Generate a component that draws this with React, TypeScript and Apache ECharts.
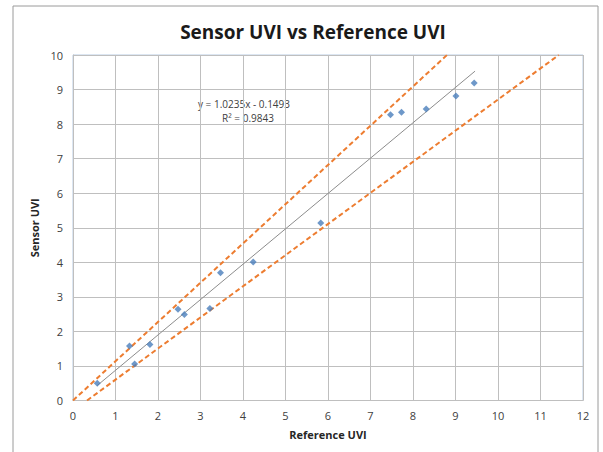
import React, { useEffect, useRef } from "react";
import * as echarts from "echarts";

const referenceUvi = [0.57, 1.33, 1.45, 1.81, 2.47, 2.62, 3.22, 3.47, 4.24, 5.83, 7.47, 7.73, 8.31, 9.01, 9.44];
const sensorUvi = [0.5, 1.58, 1.06, 1.62, 2.64, 2.49, 2.66, 3.7, 4.01, 5.14, 8.27, 8.34, 8.44, 8.81, 9.19];
const trendLine = [[0.57, 0.434], [9.46, 9.533]];
const upperBand = [[0, 0], [8.8, 10]];
const lowerBand = [[0.33, 0], [11.43, 10]];
const xTicks = [0, 12, 1];
const yTicks = [0, 10, 1];
const titleText = "Sensor UVI vs Reference UVI";
const xName = "Reference UVI";
const yName = "Sensor UVI";
const equationText = "y = 1.0235x - 0.1493";
const r2Text = "R² = 0.9843";

const FONT = "'Open Sans', 'Liberation Sans', sans-serif";

export default function App() {
  const ref = useRef<HTMLDivElement>(null);
  useEffect(() => {
    if (!ref.current) return;
    const chart = echarts.init(ref.current, undefined, { renderer: "svg" });
    const points = referenceUvi.map((x, i) => [x, sensorUvi[i]]);
    chart.setOption({
      animation: false,
      backgroundColor: "#ffffff",
      title: {
        text: titleText,
        left: 308,
        top: 17,
        textAlign: "center",
        textStyle: { fontFamily: FONT, fontSize: 19, fontWeight: "bold", color: "#1a1a1a" },
      },
      graphic: [
        {
          type: "rect",
          shape: { x: 13, y: 6, width: 585, height: 470 },
          style: { fill: "none", stroke: "#9a9a9a", lineWidth: 1 },
          silent: true,
          z: -10,
        },
        {
          type: "text",
          x: 244,
          y: 104,
          style: { text: equationText, fontFamily: FONT, fontSize: 10, fill: "#404040", align: "center", verticalAlign: "middle" },
        },
        {
          type: "text",
          x: 248,
          y: 118,
          style: { text: r2Text, fontFamily: FONT, fontSize: 10, fill: "#404040", align: "center", verticalAlign: "middle" },
        },
      ],
      grid: {
        left: 73,
        right: 20,
        top: 55,
        bottom: 51.5,
        show: true,
        borderColor: "#b8cce4",
        borderWidth: 1,
      },
      xAxis: {
        type: "value",
        min: xTicks[0],
        max: xTicks[1],
        interval: xTicks[2],
        name: xName,
        nameLocation: "middle",
        nameGap: 28,
        nameTextStyle: { fontFamily: FONT, fontSize: 11, fontWeight: "bold", color: "#262626" },
        axisLine: { show: true, lineStyle: { color: "#bfbfbf" } },
        axisTick: { show: false },
        axisLabel: { fontFamily: FONT, fontSize: 11, color: "#404040", margin: 9 },
        splitLine: { show: true, lineStyle: { color: "#bfbfbf", width: 1 } },
      },
      yAxis: {
        type: "value",
        min: yTicks[0],
        max: yTicks[1],
        interval: yTicks[2],
        name: yName,
        nameLocation: "middle",
        nameGap: 30,
        nameRotate: 90,
        nameTextStyle: { fontFamily: FONT, fontSize: 11, fontWeight: "bold", color: "#262626" },
        axisLine: { show: true, lineStyle: { color: "#bfbfbf" } },
        axisTick: { show: false },
        axisLabel: { fontFamily: FONT, fontSize: 11, color: "#404040", margin: 10 },
        splitLine: { show: true, lineStyle: { color: "#bfbfbf", width: 1 } },
      },
      series: [
        {
          type: "line",
          data: upperBand,
          symbol: "none",
          lineStyle: { color: "#ed7d31", width: 2, type: [5, 3] },
          z: 3,
        },
        {
          type: "line",
          data: lowerBand,
          symbol: "none",
          lineStyle: { color: "#ed7d31", width: 2, type: [5, 3] },
          z: 3,
        },
        {
          type: "line",
          data: trendLine,
          symbol: "none",
          lineStyle: { color: "#8c8c8c", width: 1 },
          z: 4,
        },
        {
          type: "scatter",
          data: points,
          symbol: "diamond",
          symbolSize: 7,
          itemStyle: { color: "#4a7ebb" },
          z: 5,
        },
      ],
    });
    return () => chart.dispose();
  }, []);
  return <div ref={ref} style={{ position: "fixed", left: 0, top: 0, width: 603, height: 452 }} />;
}
